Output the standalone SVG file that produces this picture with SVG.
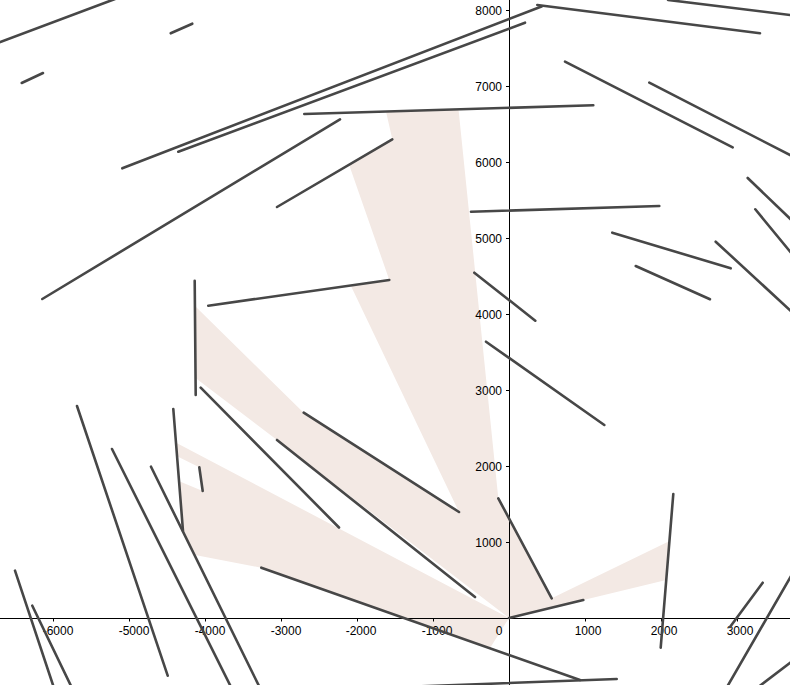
<svg xmlns="http://www.w3.org/2000/svg" width="790" height="685" viewBox="0 0 790 685">
<style>
.reg{fill:#f3e9e4;stroke:none}
.seg{stroke:#474747;stroke-width:2.6;stroke-linecap:round;fill:none}
.ax{stroke:#000;stroke-width:1;fill:none}
.lbl{font-family:"Liberation Sans",Arial,sans-serif;font-size:12px;fill:#000}
.xl{text-anchor:middle}
.yl{text-anchor:end}
</style>
<rect width="790" height="685" fill="#fff"/>
<g id="regions">
<polygon class="reg" points="509,618 666.2,580 669.6,541 551.7,598.3 498.3,498.3 458.5,109.2 386,111.4 392.3,139.3 349,164.4 389.3,280 350.6,285.3 459,512 303.7,412.7 195,306 195.5,378 277,440"/>
<polygon class="reg" points="509,618 176.6,443 177.6,456.6 199.3,467.3 202.7,491 179.3,481.2 183,531 195,555 261.3,567.7 490,648"/>
</g>
<g id="axes">
<line class="ax" x1="0" y1="618.5" x2="790" y2="618.5"/>
<line class="ax" x1="509.5" y1="0" x2="509.5" y2="685"/>
<path class="ax" d="M53.5,618.5v3M129.5,618.5v3M205.5,618.5v3M281.5,618.5v3M357.5,618.5v3M433.5,618.5v3M585.5,618.5v3M661.5,618.5v3M737.5,618.5v3"/>
<path class="ax" d="M506,10.5h3.5M506,86.5h3.5M506,162.5h3.5M506,238.5h3.5M506,314.5h3.5M506,390.5h3.5M506,466.5h3.5M506,542.5h3.5"/>
<g class="lbl xl">
<text x="58" y="635">-6000</text>
<text x="134" y="635">-5000</text>
<text x="210" y="635">-4000</text>
<text x="286" y="635">-3000</text>
<text x="361" y="635">-2000</text>
<text x="437" y="635">-1000</text>
<text x="499" y="635">0</text>
<text x="588" y="635">1000</text>
<text x="664" y="635">2000</text>
<text x="740" y="635">3000</text>
</g>
<g class="lbl yl">
<text x="502" y="15">8000</text>
<text x="502" y="91">7000</text>
<text x="502" y="167">6000</text>
<text x="502" y="243">5000</text>
<text x="502" y="319">4000</text>
<text x="502" y="395">3000</text>
<text x="502" y="471">2000</text>
<text x="502" y="547">1000</text>
</g>
</g>
<g id="segments">
<line class="seg" x1="-5" y1="44" x2="115" y2="-1"/>
<line class="seg" x1="170.7" y1="33.3" x2="192.3" y2="23.7"/>
<line class="seg" x1="21.7" y1="83" x2="43" y2="73"/>
<line class="seg" x1="122.3" y1="168.3" x2="541.5" y2="6.5"/>
<line class="seg" x1="178.3" y1="151.7" x2="525" y2="22.7"/>
<line class="seg" x1="42.3" y1="299" x2="340" y2="119.3"/>
<line class="seg" x1="304.3" y1="114" x2="593.3" y2="105.3"/>
<line class="seg" x1="277" y1="207" x2="392.3" y2="139.3"/>
<line class="seg" x1="208.3" y1="305.7" x2="389.3" y2="280"/>
<line class="seg" x1="194.7" y1="280.7" x2="195.7" y2="395"/>
<line class="seg" x1="200.7" y1="387.7" x2="339" y2="527.5"/>
<line class="seg" x1="303.7" y1="412.7" x2="459" y2="512"/>
<line class="seg" x1="277" y1="440" x2="475" y2="597"/>
<line class="seg" x1="173.3" y1="409" x2="183" y2="531"/>
<line class="seg" x1="199.3" y1="467.3" x2="202.7" y2="491"/>
<line class="seg" x1="77" y1="406" x2="167.7" y2="675.7"/>
<line class="seg" x1="112" y1="449" x2="231" y2="687"/>
<line class="seg" x1="151" y1="466.7" x2="260" y2="688"/>
<line class="seg" x1="15" y1="570.7" x2="54" y2="688"/>
<line class="seg" x1="32.3" y1="605.7" x2="72" y2="688"/>
<line class="seg" x1="261.3" y1="567.7" x2="580" y2="680"/>
<line class="seg" x1="400" y1="687.1" x2="616.7" y2="679"/>
<line class="seg" x1="509" y1="618" x2="583.3" y2="600"/>
<line class="seg" x1="498.3" y1="498.3" x2="551.7" y2="598.3"/>
<line class="seg" x1="673.3" y1="494" x2="660.7" y2="647.7"/>
<line class="seg" x1="762.7" y1="582.7" x2="730" y2="627"/>
<line class="seg" x1="792" y1="574.5" x2="727" y2="687"/>
<line class="seg" x1="793" y1="660.5" x2="759" y2="686.5"/>
<line class="seg" x1="537.3" y1="5" x2="760" y2="33.3"/>
<line class="seg" x1="668" y1="0" x2="792" y2="15.2"/>
<line class="seg" x1="565" y1="61.7" x2="732.7" y2="147.3"/>
<line class="seg" x1="649.3" y1="82.7" x2="792" y2="156"/>
<line class="seg" x1="471" y1="211.7" x2="659.3" y2="206"/>
<line class="seg" x1="612.3" y1="232.7" x2="730.7" y2="268.3"/>
<line class="seg" x1="635.7" y1="266" x2="710" y2="299.3"/>
<line class="seg" x1="715.7" y1="241.7" x2="792" y2="312"/>
<line class="seg" x1="747.7" y1="178" x2="792" y2="220.5"/>
<line class="seg" x1="755.3" y1="209.3" x2="792" y2="254"/>
<line class="seg" x1="474.3" y1="272.7" x2="535.3" y2="320.7"/>
<line class="seg" x1="486" y1="341.7" x2="604.3" y2="425"/>
</g>
</svg>
